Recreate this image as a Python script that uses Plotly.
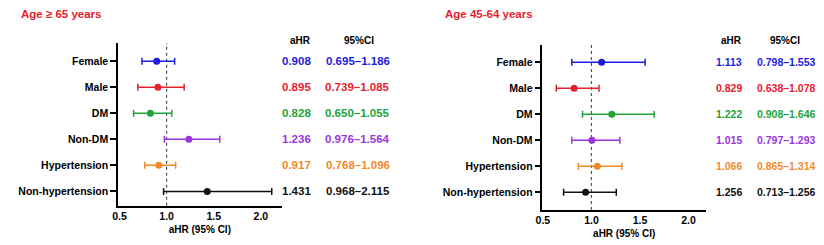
import plotly.graph_objects as go

categories = ["Female", "Male", "DM", "Non-DM", "Hypertension", "Non-hypertension"]
colors = ["#1c1ce0", "#e8202e", "#22a33a", "#9a35dd", "#f28a2a", "#111111"]

# Left panel (Age >= 65) - plotted values as drawn
left_est = [0.895, 0.908, 0.828, 1.236, 0.917, 1.431]
left_lo = [0.739, 0.695, 0.650, 0.976, 0.768, 0.968]
left_hi = [1.085, 1.186, 1.055, 1.564, 1.096, 2.115]
left_ahr_text = ["0.908", "0.895", "0.828", "1.236", "0.917", "1.431"]
left_ci_text = ["0.695–1.186", "0.739–1.085", "0.650–1.055", "0.976–1.564", "0.768–1.096", "0.968–2.115"]

# Right panel (Age 45-64) - plotted values as drawn
right_est = [1.105, 0.822, 1.210, 1.005, 1.060, 0.940]
right_lo = [0.798, 0.638, 0.908, 0.797, 0.865, 0.713]
right_hi = [1.553, 1.078, 1.646, 1.293, 1.314, 1.256]
right_ahr_text = ["1.113", "0.829", "1.222", "1.015", "1.066", "1.256"]
right_ci_text = ["0.798–1.553", "0.638–1.078", "0.908–1.646", "0.797–1.293", "0.865–1.314", "0.713–1.256"]

xticks = [0.5, 1.0, 1.5, 2.0]
xtick_text = ["0.5", "1.0", "1.5", "2.0"]

W, H = 824, 245
FONT = "Arial, Liberation Sans, sans-serif"

fig = go.Figure()

def add_panel(est, lo, hi, xa, ya):
    for i, cat in enumerate(categories):
        fig.add_trace(go.Scatter(
            x=[est[i]], y=[i], mode="markers",
            marker=dict(color=colors[i], size=7),
            error_x=dict(type="data", symmetric=False,
                         array=[hi[i] - est[i]], arrayminus=[est[i] - lo[i]],
                         color=colors[i], thickness=1.5, width=3.5),
            xaxis=xa, yaxis=ya, showlegend=False, hoverinfo="skip"))

add_panel(left_est, left_lo, left_hi, "x", "y")
add_panel(right_est, right_lo, right_hi, "x2", "y2")

axis_common = dict(showline=True, linecolor="black", linewidth=1.5, showgrid=False,
                   zeroline=False, tickfont=dict(family=FONT, size=10.5, color="black", weight="bold"))

fig.update_layout(
    width=W, height=H, margin=dict(l=0, r=0, t=0, b=0),
    plot_bgcolor="white", paper_bgcolor="white",
    xaxis=dict(domain=[112 / W, 277 / W], range=[0.485, 2.22], tickvals=xticks, ticktext=xtick_text,
               ticks="", anchor="y",
               title=dict(text="aHR (95% CI)", font=dict(family=FONT, size=10, color="black", weight="bold"), standoff=5),
               **axis_common),
    yaxis=dict(domain=[1 - 205.7 / H, 1 - 43 / H], range=[5.55, -0.7], tickvals=list(range(6)),
               ticktext=categories, ticks="outside", ticklen=6, tickwidth=1.5, tickcolor="black",
               anchor="x", **axis_common),
    xaxis2=dict(domain=[540 / W, 705 / W], range=[0.495, 2.18], tickvals=xticks, ticktext=xtick_text,
                ticks="", anchor="y2",
                title=dict(text="aHR (95% CI)", font=dict(family=FONT, size=10, color="black", weight="bold"), standoff=5),
                **axis_common),
    yaxis2=dict(domain=[1 - 210 / H, 1 - 45 / H], range=[5.68, -0.665], tickvals=list(range(6)),
                ticktext=categories, ticks="outside", ticklen=6, tickwidth=1.5, tickcolor="black",
                anchor="x2", **axis_common),
)

# Reference lines at HR = 1
for xa, ya in [("x", "y"), ("x2", "y2")]:
    fig.add_shape(type="line", xref=xa, yref=f"{ya} domain", x0=1, x1=1, y0=0, y1=1,
                  line=dict(color="#555555", width=1.2, dash="dot"), layer="below")

# Titles
fig.add_annotation(text="Age ≥ 65 years", x=12 / W, y=1 - 14 / H, xref="paper", yref="paper",
                   xanchor="left", yanchor="middle", showarrow=False,
                   font=dict(family=FONT, size=11.5, color="#e8202e", weight="bold"))
fig.add_annotation(text="Age 45-64 years", x=440 / W, y=1 - 14 / H, xref="paper", yref="paper",
                   xanchor="left", yanchor="middle", showarrow=False,
                   font=dict(family=FONT, size=11.5, color="#e8202e", weight="bold"))

def add_table(ahr_text, ci_text, x_ahr, x_ci, ya, header_y, size):
    # x_ahr / x_ci are right edges of the columns
    fig.add_annotation(text="aHR", x=x_ahr / W, y=1 - header_y / H, xref="paper", yref="paper",
                       xanchor="right", showarrow=False,
                       font=dict(family=FONT, size=10, color="black", weight="bold"))
    fig.add_annotation(text="95%CI", x=(x_ci - 16) / W, y=1 - header_y / H, xref="paper", yref="paper",
                       xanchor="right", showarrow=False,
                       font=dict(family=FONT, size=10, color="black", weight="bold"))
    for i in range(len(categories)):
        fig.add_annotation(text=ahr_text[i], x=x_ahr / W, y=i, xref="paper", yref=ya,
                           xanchor="right", showarrow=False,
                           font=dict(family=FONT, size=size, color=colors[i], weight="bold"))
        fig.add_annotation(text=ci_text[i], x=x_ci / W, y=i, xref="paper", yref=ya,
                           xanchor="right", showarrow=False,
                           font=dict(family=FONT, size=size, color=colors[i], weight="bold"))

add_table(left_ahr_text, left_ci_text, 309, 388, "y", 33, 11.5)
add_table(right_ahr_text, right_ci_text, 743, 818, "y2", 33, 10.5)

fig.write_html("out.html", config={"displayModeBar": False},
               post_script="document.body.style.margin='0';")
